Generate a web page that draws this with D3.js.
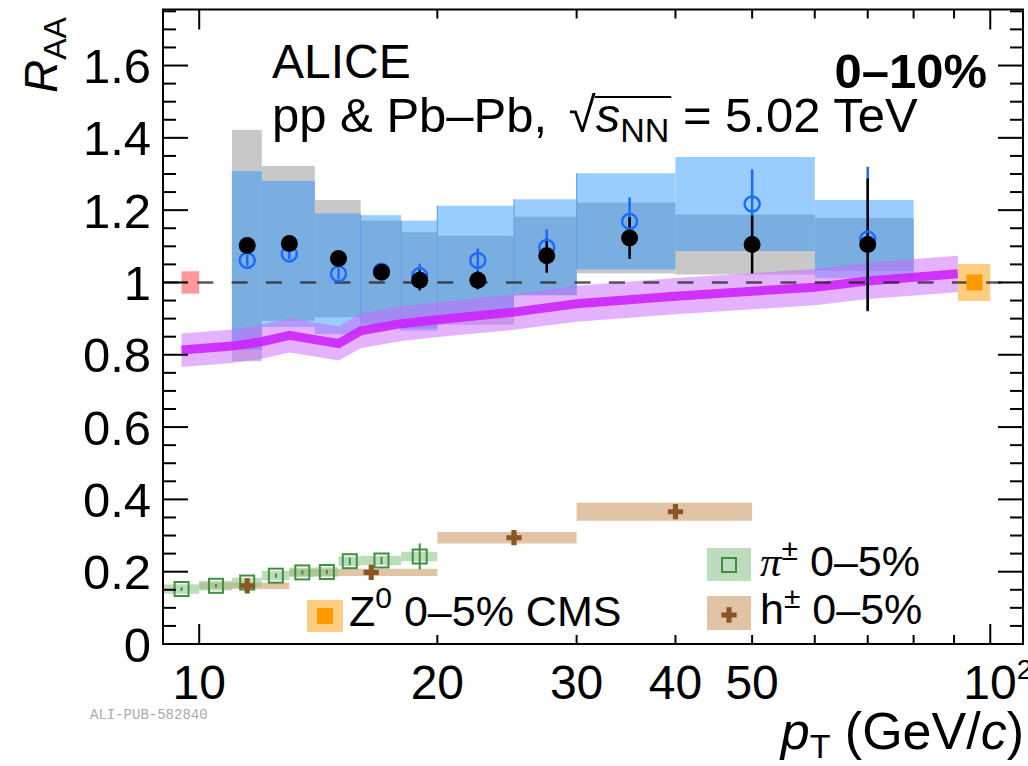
<!DOCTYPE html>
<html>
<head>
<meta charset="utf-8">
<script src="https://cdn.jsdelivr.net/npm/d3@7"></script>
<style>
  body { margin: 0; background: #fff; }
  text { font-family: "Liberation Sans", Arial, sans-serif; }
</style>
</head>
<body>
<div id="my_dataviz"></div>
<script>
// ALICE jet R_AA data, 0-10%
const binLo = [11, 12, 14, 16, 18, 20, 25, 30, 40, 60];
const binHi = [12, 14, 16, 18, 20, 25, 30, 40, 60, 80];
const ptCenter = [11.5, 13, 15, 17, 19, 22.5, 27.5, 35, 50, 70];
const raaBlack = [1.102, 1.108, 1.066, 1.028, 1.006, 1.006, 1.074, 1.123, 1.105, 1.105];
const statBlack = [0.015, 0.015, 0.015, 0.02, 0.028, 0.025, 0.047, 0.058, 0.08, 0.183];
const sysBlack = [0.32, 0.214, 0.162, 0.143, 0.133, 0.123, 0.108, 0.098, 0.083, 0.073];
const raaBlue = [1.061, 1.079, 1.024, 1.031, 1.019, 1.061, 1.097, 1.169, 1.217, 1.12];
const statBlue = [0.015, 0.015, 0.015, 0.015, 0.033, 0.033, 0.05, 0.066, 0.096, 0.2];
const sysBlue = [0.247, 0.202, 0.167, 0.155, 0.152, 0.151, 0.133, 0.133, 0.13, 0.108];

// model band
const thPt  = [9.5, 11, 12, 13, 14, 15, 16, 18, 20, 25, 30, 40, 60, 70, 91];
const thMid = [0.813, 0.824, 0.836, 0.854, 0.842, 0.831, 0.866, 0.886, 0.897, 0.918, 0.941, 0.962, 0.987, 1.004, 1.024];
const thLo  = [0.766, 0.777, 0.789, 0.806, 0.795, 0.784, 0.818, 0.838, 0.849, 0.869, 0.891, 0.912, 0.937, 0.954, 0.973];
const thHi  = [0.859, 0.870, 0.883, 0.901, 0.889, 0.878, 0.914, 0.934, 0.945, 0.967, 0.991, 1.012, 1.037, 1.055, 1.074];

// pi+- 0-5%
const piLo = [9, 10, 11, 12, 13, 14, 15, 16, 18];
const piHi = [10, 11, 12, 13, 14, 15, 16, 18, 20];
const piPt = [9.5, 10.5, 11.5, 12.5, 13.5, 14.5, 15.5, 17, 19];
const piRaa = [0.152, 0.161, 0.170, 0.189, 0.198, 0.199, 0.229, 0.231, 0.242];
const piStat = [0.005, 0.005, 0.005, 0.006, 0.006, 0.006, 0.01, 0.01, 0.036];
const piSys = [0.013, 0.013, 0.013, 0.013, 0.013, 0.013, 0.013, 0.013, 0.013];

// h+- 0-5%
const hLo = [10, 13, 20, 30];
const hHi = [13, 20, 30, 50];
const hPt = [11.5, 16.5, 25, 40];
const hRaa = [0.161, 0.198, 0.294, 0.366];
const hStat = [0.004, 0.005, 0.008, 0.012];
const hSys = [0.009, 0.01, 0.016, 0.025];

// Z0 CMS and normalisation box
const zPt = 95.5, zLo = 91, zHi = 100, zRaa = 1.0, zSys = 0.051;
const normLo = 9.5, normHi = 10.0, normSys = 0.031;

// ticks
const xMajor = [10, 100];
const xMinor = [20, 30, 40, 50, 60, 70, 80, 90];
const xLabels = [10, 20, 30, 40, 50];
const yLabels = [0, 0.2, 0.4, 0.6, 0.8, 1, 1.2, 1.4, 1.6];

const margin = {top: 9.5, right: 5, bottom: 122, left: 163},
  width = 1028 - margin.left - margin.right,
  height = 766 - margin.top - margin.bottom;

const root = d3.select("#my_dataviz")
  .append("svg")
  .attr("width", 1028)
  .attr("height", 766);
const svg = root.append("g")
  .attr("transform", `translate(${margin.left},${margin.top})`);

const x = d3.scaleLog().domain([9, 110]).range([0, width]);
const y = d3.scaleLinear().domain([0, 1.755]).range([height, 0]);

const jets = ptCenter.map((p, i) => ({p, lo: binLo[i], hi: binHi[i],
  b: raaBlack[i], bs: statBlack[i], bsys: sysBlack[i],
  u: raaBlue[i], us: statBlue[i], usys: sysBlue[i]}));

// systematic boxes
svg.selectAll(".grayBox").data(jets).enter().append("rect")
  .attr("x", d => x(d.lo)).attr("width", d => x(d.hi) - x(d.lo))
  .attr("y", d => y(d.b + d.bsys)).attr("height", d => y(d.b - d.bsys) - y(d.b + d.bsys))
  .style("fill", "#c8c8c8");
svg.selectAll(".blueBox").data(jets).enter().append("rect")
  .attr("x", d => x(d.lo)).attr("width", d => x(d.hi) - x(d.lo))
  .attr("y", d => y(d.u + d.usys)).attr("height", d => y(d.u - d.usys) - y(d.u + d.usys))
  .style("fill", "#99ccff");
svg.selectAll(".overBox").data(jets).enter().append("rect")
  .attr("x", d => x(d.lo)).attr("width", d => x(d.hi) - x(d.lo))
  .attr("y", d => y(Math.min(d.b + d.bsys, d.u + d.usys)))
  .attr("height", d => Math.max(0, y(Math.max(d.b - d.bsys, d.u - d.usys)) - y(Math.min(d.b + d.bsys, d.u + d.usys))))
  .style("fill", "#7baee0");
// faint edge where neighbouring boxes meet
svg.selectAll(".edge").data(jets.slice(3, 8)).enter().append("line")
  .attr("x1", d => x(d.lo)).attr("x2", d => x(d.lo))
  .attr("y1", d => y(d.u + d.usys)).attr("y2", d => y(d.u - d.usys))
  .style("stroke", "#6aa2e6").style("stroke-width", 1.2);

// normalisation box
svg.append("rect")
  .attr("x", x(normLo)).attr("width", x(normHi) - x(normLo))
  .attr("y", y(1 + normSys)).attr("height", y(1 - normSys) - y(1 + normSys))
  .style("fill", "#ff9999");

// model
const th = thPt.map((p, i) => ({p, m: thMid[i], lo: thLo[i], hi: thHi[i]}));
svg.append("path").datum(th)
  .attr("d", d3.area().x(d => x(d.p)).y0(d => y(d.lo)).y1(d => y(d.hi)))
  .style("fill", "#cc66ff").style("opacity", 0.5);
svg.append("path").datum(th)
  .attr("d", d3.line().x(d => x(d.p)).y(d => y(d.m)))
  .style("fill", "none").style("stroke", "#cc22ff").style("stroke-width", 9).style("opacity", 0.9);

// Z0 point
svg.append("rect")
  .attr("x", x(zLo)).attr("width", x(zHi) - x(zLo))
  .attr("y", y(zRaa + zSys)).attr("height", y(zRaa - zSys) - y(zRaa + zSys))
  .style("fill", "#ffcc80");

// dashed unity line
svg.append("line")
  .attr("x1", 0).attr("x2", width).attr("y1", y(1)).attr("y2", y(1))
  .style("stroke", "#222").style("stroke-width", 2.5).style("opacity", 0.75)
  .style("stroke-dasharray", "16,18.3");

svg.append("rect")
  .attr("x", x(zPt) - 8).attr("y", y(zRaa) - 8).attr("width", 16).attr("height", 16)
  .style("fill", "#ff9900");

// pion and hadron boxes
const pis = piPt.map((p, i) => ({p, lo: piLo[i], hi: piHi[i], v: piRaa[i], s: piStat[i], sys: piSys[i]}));
const hs = hPt.map((p, i) => ({p, lo: hLo[i], hi: hHi[i], v: hRaa[i], s: hStat[i], sys: hSys[i]}));

svg.selectAll(".hBox").data(hs).enter().append("rect")
  .attr("x", d => x(d.lo)).attr("width", d => x(d.hi) - x(d.lo))
  .attr("y", d => y(d.v + d.sys)).attr("height", d => y(d.v - d.sys) - y(d.v + d.sys))
  .style("fill", "#d4aa80").style("opacity", 0.7);
svg.selectAll(".piBox").data(pis).enter().append("rect")
  .attr("x", d => x(d.lo)).attr("width", d => x(d.hi) - x(d.lo))
  .attr("y", d => y(d.v + d.sys)).attr("height", d => y(d.v - d.sys) - y(d.v + d.sys))
  .style("fill", "#8fc48f").style("opacity", 0.6);

svg.selectAll(".piErr").data(pis).enter().append("line")
  .attr("x1", d => x(d.p)).attr("x2", d => x(d.p))
  .attr("y1", d => y(d.v + d.s)).attr("y2", d => y(d.v - d.s))
  .style("stroke", "#3f8f3f").style("stroke-width", 2);
svg.selectAll(".piPt").data(pis).enter().append("rect")
  .attr("x", d => x(d.p) - 7).attr("y", d => y(d.v) - 7)
  .attr("width", 14).attr("height", 14)
  .style("fill", "none").style("stroke", "#3f8f3f").style("stroke-width", 2);

const cross = d3.symbol().type(d3.symbolCross).size(130);
svg.selectAll(".hErr").data(hs).enter().append("line")
  .attr("x1", d => x(d.p)).attr("x2", d => x(d.p))
  .attr("y1", d => y(d.v + d.s)).attr("y2", d => y(d.v - d.s))
  .style("stroke", "#8b5524").style("stroke-width", 2);
svg.selectAll(".hPt").data(hs).enter().append("path")
  .attr("d", cross)
  .attr("transform", d => `translate(${x(d.p)},${y(d.v)})`)
  .style("fill", "#8b5524");

// jet points: blue open, black filled
svg.selectAll(".blueErr").data(jets).enter().append("line")
  .attr("x1", d => x(d.p)).attr("x2", d => x(d.p))
  .attr("y1", d => y(d.u + d.us)).attr("y2", d => y(d.u - d.us))
  .style("stroke", "#1a6cff").style("stroke-width", 2.5);
svg.selectAll(".blackErr").data(jets).enter().append("line")
  .attr("x1", d => x(d.p)).attr("x2", d => x(d.p))
  .attr("y1", d => y(d.b + d.bs)).attr("y2", d => y(d.b - d.bs))
  .style("stroke", "#000").style("stroke-width", 2.5);
svg.selectAll(".bluePt").data(jets).enter().append("circle")
  .attr("cx", d => x(d.p)).attr("cy", d => y(d.u)).attr("r", 7.5)
  .style("fill", "none").style("stroke", "#1a6cff").style("stroke-width", 2.5);
svg.selectAll(".blackPt").data(jets).enter().append("circle")
  .attr("cx", d => x(d.p)).attr("cy", d => y(d.b)).attr("r", 8.5)
  .style("fill", "#000");

// frame and ticks
svg.append("rect").attr("width", width).attr("height", height)
  .style("fill", "none").style("stroke", "#000").style("stroke-width", 2);

const tickG = svg.append("g").style("stroke", "#000").style("stroke-width", 2);
xMajor.concat(xMinor).forEach(v => {
  const len = xMajor.includes(v) ? 20 : 9;
  tickG.append("line").attr("x1", x(v)).attr("x2", x(v)).attr("y1", height).attr("y2", height - len);
  tickG.append("line").attr("x1", x(v)).attr("x2", x(v)).attr("y1", 0).attr("y2", len);
});
d3.range(0, 1.76, 0.05).forEach(v => {
  const major = Math.abs(v / 0.2 - Math.round(v / 0.2)) < 1e-6;
  const len = major ? 25 : 13;
  tickG.append("line").attr("x1", 0).attr("x2", len).attr("y1", y(v)).attr("y2", y(v));
  tickG.append("line").attr("x1", width).attr("x2", width - len).attr("y1", y(v)).attr("y2", y(v));
});

// tick labels
svg.selectAll(".yl").data(yLabels).enter().append("text")
  .attr("x", -12).attr("y", d => y(d)).attr("dy", "0.36em")
  .attr("text-anchor", "end").style("font-size", "49px")
  .text(d => d);
svg.selectAll(".xl").data(xLabels).enter().append("text")
  .attr("x", d => x(d)).attr("y", height + 55)
  .attr("text-anchor", "middle").style("font-size", "48px")
  .text(d => d);
const hundred = svg.append("text").attr("x", x(100) - 27).attr("y", height + 55).style("font-size", "48px");
hundred.append("tspan").text("10");
hundred.append("tspan").attr("dy", -20).style("font-size", "28px").text("2");

// axis titles
const xt = root.append("text").attr("x", 1024).attr("y", 749)
  .attr("text-anchor", "end").style("font-size", "52px");
xt.append("tspan").style("font-style", "italic").text("p");
xt.append("tspan").attr("dy", 9).style("font-size", "34px").text("T");
xt.append("tspan").attr("dy", -9).text(" (GeV/");
xt.append("tspan").style("font-style", "italic").text("c");
xt.append("tspan").text(")");

const yt = root.append("text").attr("transform", "translate(57,93) rotate(-90)")
  .style("font-size", "46px");
yt.append("tspan").style("font-style", "italic").text("R");
yt.append("tspan").attr("dy", 9).style("font-size", "32px").text("AA");

root.append("text").attr("x", 90).attr("y", 719)
  .style("font-family", "'Liberation Mono', monospace").style("font-size", "14px")
  .style("fill", "#aaa").text("ALI-PUB-582840");

// labels
root.append("text").attr("x", 272).attr("y", 78).style("font-size", "48px").text("ALICE");
root.append("text").attr("x", 987).attr("y", 88).attr("text-anchor", "end")
  .style("font-size", "49px").style("font-weight", "bold").text("0–10%");
const l2 = root.append("text").attr("x", 272).attr("y", 132).style("font-size", "49px");
l2.append("tspan").text("pp & Pb–Pb, ");
l2.append("tspan").attr("dx", 8).text("√");
l2.append("tspan").style("font-style", "italic").text("s");
l2.append("tspan").attr("dy", 10).style("font-size", "34px").text("NN");
l2.append("tspan").attr("dy", -10).text(" = 5.02 TeV");
const n2 = l2.node();
const ox1 = n2.getEndPositionOfChar(12).x, ox2 = n2.getEndPositionOfChar(15).x;
root.append("line").attr("x1", ox1 - 1).attr("x2", ox2 + 2).attr("y1", 97).attr("y2", 97)
  .style("stroke", "#000").style("stroke-width", 2);

// legends
root.append("rect").attr("x", 307).attr("y", 600).attr("width", 36).attr("height", 32).style("fill", "#ffcc80");
root.append("rect").attr("x", 317).attr("y", 608).attr("width", 16).attr("height", 16).style("fill", "#ff9900");
const zl = root.append("text").attr("x", 349).attr("y", 626).style("font-size", "43px");
zl.append("tspan").text("Z");
zl.append("tspan").attr("dy", -18).style("font-size", "30px").text("0");
zl.append("tspan").attr("dy", 18).text(" 0–5% CMS");

root.append("rect").attr("x", 707).attr("y", 548).attr("width", 44).attr("height", 33)
  .style("fill", "#8fc48f").style("opacity", 0.6);
root.append("rect").attr("x", 722).attr("y", 558).attr("width", 14).attr("height", 14)
  .style("fill", "none").style("stroke", "#3f8f3f").style("stroke-width", 2);
const pl = root.append("text").attr("x", 760).attr("y", 576).style("font-size", "43px");
pl.append("tspan").style("font-style", "italic").style("font-family", "'Liberation Serif', serif").text("π");
pl.append("tspan").attr("dy", -16).style("font-size", "30px").text("±");
pl.append("tspan").attr("dy", 16).text(" 0–5%");

root.append("rect").attr("x", 707).attr("y", 596).attr("width", 44).attr("height", 34)
  .style("fill", "#d4aa80").style("opacity", 0.7);
root.append("path").attr("d", cross).attr("transform", "translate(729,615)").style("fill", "#8b5524");
const hl = root.append("text").attr("x", 760).attr("y", 624).style("font-size", "43px");
hl.append("tspan").text("h");
hl.append("tspan").attr("dy", -16).style("font-size", "30px").text("±");
hl.append("tspan").attr("dy", 16).text(" 0–5%");
</script>
</body>
</html>
